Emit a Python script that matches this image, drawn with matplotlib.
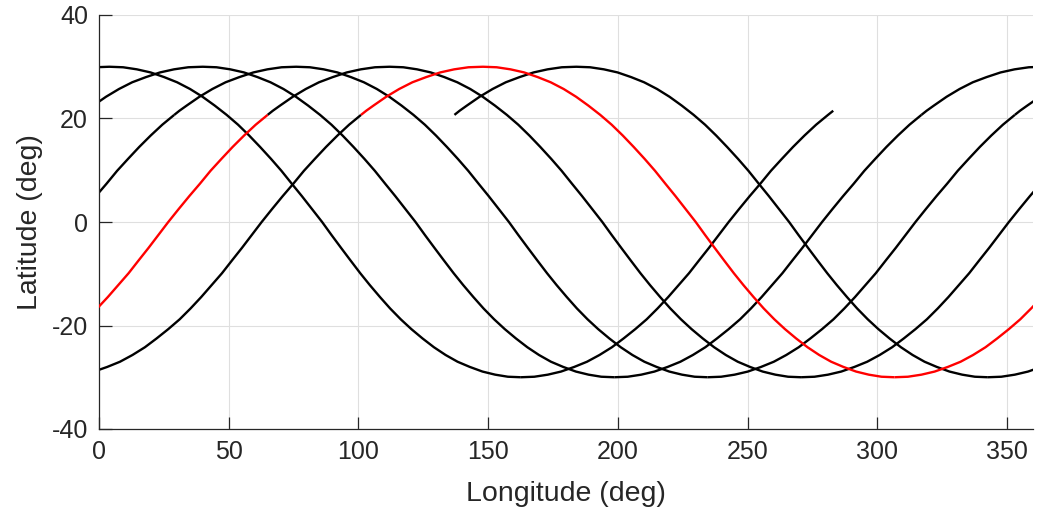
import numpy as np
import matplotlib.pyplot as plt

# One orbit of the ground track: longitude offset from the
# northern-most point of the pass (deg) and latitude (deg).
orbit_dlon = [-165.4, -160.2, -155.0, -149.9, -144.8, -139.9, -135.1, -130.3, -125.8,
              -121.3, -116.9, -112.7, -108.6, -104.6, -100.6, -96.7, -92.9, -89.1, -85.3,
              -81.3, -77.2, -73.1, -69.0, -64.8, -60.5, -56.1, -51.6, -47.0, -45.0,
              -42.2, -37.3, -32.3, -27.2, -21.9, -16.5, -11.1, -5.6, 0.0,
              5.3, 10.6, 15.9, 21.1, 26.1, 31.1, 35.9, 40.6, 45.2,
              49.6, 53.9, 58.1, 62.3, 66.3, 70.3, 74.2, 78.1, 82.0,
              85.6, 89.3, 92.9, 96.7, 100.4, 104.3, 108.2, 112.3, 116.4,
              120.7, 125.1, 129.6, 134.2, 138.9, 143.8, 148.7, 153.6, 158.6]
orbit_lat = [-30.0, -29.9, -29.5, -28.9, -28.0, -27.0, -25.7, -24.2, -22.5,
             -20.7, -18.8, -16.7, -14.5, -12.2, -9.9, -7.4, -5.0, -2.5, 0.0,
             2.5, 5.0, 7.4, 9.9, 12.2, 14.5, 16.7, 18.8, 20.7, 21.5,
             22.5, 24.2, 25.7, 27.0, 28.0, 28.9, 29.5, 29.9, 30.0,
             29.9, 29.5, 28.9, 28.0, 27.0, 25.7, 24.2, 22.5, 20.7,
             18.8, 16.7, 14.5, 12.2, 9.9, 7.4, 5.0, 2.5, 0.0,
             -2.5, -5.0, -7.4, -9.9, -12.2, -14.5, -16.7, -18.8, -20.7,
             -22.5, -24.2, -25.7, -27.0, -28.0, -28.9, -29.5, -29.9, -30.0]

# longitude of the northern-most point of each pass (deg)
peak_lon = [184, 148, 112, 76, 40, 4, 328]

start_dlon = -47.0   # track (and each orbit) starts here, before the peak
end_dlon = -45.0     # track stops here, before the last peak
red_orbit = 1        # highlighted orbit

xticks = [0, 50, 100, 150, 200, 250, 300, 350]
yticks = [-40, -20, 0, 20, 40]

dark = "#262626"
plt.rcParams["font.family"] = ["Liberation Sans", "DejaVu Sans"]
plt.rcParams["axes.unicode_minus"] = False

fig = plt.figure(figsize=(10.37, 5.14), dpi=100)
ax = fig.add_axes([99 / 1037, 1 - 429 / 514, 934 / 1037, 414 / 514])

dlon = np.array(orbit_dlon)
lat = np.array(orbit_lat)
n = len(peak_lon)

for k, p in enumerate(peak_lon):
    pieces = []
    # part before start_dlon belongs to the previous orbit
    if k > 0:
        stop = end_dlon if k == n - 1 else start_dlon
        pieces.append((dlon <= stop, k - 1 == red_orbit))
    # part after start_dlon belongs to orbit k
    if k < n - 1:
        pieces.append((dlon >= start_dlon, k == red_orbit))
    for mask, is_red in pieces:
        x = p + dlon[mask]
        # wrap longitude: draw shifted copies, the axes clip them at 0/360
        for shift in (-360, 0, 360):
            ax.plot(x + shift, lat[mask], color="red" if is_red else "black",
                    lw=1.7, solid_capstyle="butt", solid_joinstyle="round",
                    zorder=3 if is_red else 2)

ax.set_xlim(0, 360)
ax.set_ylim(-40, 40)
ax.set_xticks(xticks)
ax.set_yticks(yticks)
ax.grid(True, color="#dfdfdf", lw=0.8)
ax.set_axisbelow(True)
for s in ("top", "right"):
    ax.spines[s].set_visible(False)
for s in ("left", "bottom"):
    ax.spines[s].set_color(dark)
    ax.spines[s].set_linewidth(0.9)
ax.tick_params(direction="in", length=9, width=0.9, color=dark,
               labelcolor=dark, labelsize=18, pad=8)
ax.set_xlabel("Longitude (deg)", fontsize=20.5, color=dark, labelpad=12)
ax.set_ylabel("Latitude (deg)", fontsize=20.5, color=dark, labelpad=6)

fig.savefig("out.png", dpi=100)
